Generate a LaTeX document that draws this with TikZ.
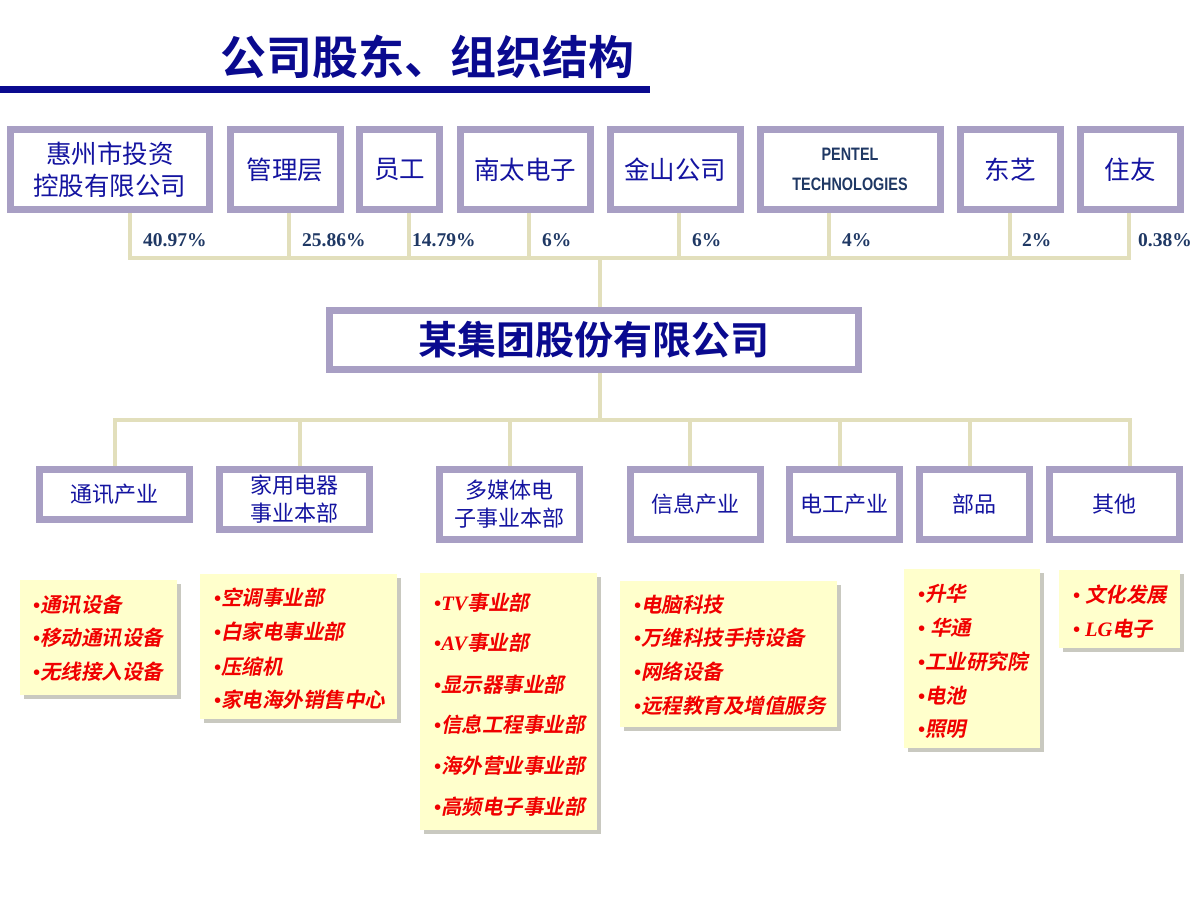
\documentclass[tikz,border=0pt]{standalone}
\usepackage{fontspec}
\setmainfont{Liberation Serif}
\newfontfamily\cjk{Noto Sans CJK SC}
\newfontfamily\cjkb{Noto Sans CJK SC}[UprightFont={* Bold}]
\newfontfamily\cjkbi{Noto Sans CJK SC}[UprightFont={* Bold},FakeSlant=0.2]
\newfontfamily\lsans{Liberation Sans}[UprightFont={* Bold},FakeStretch=0.8]
\usetikzlibrary{shadows}
\pgfdeclarelayer{background}
\pgfsetlayers{background,main}
\definecolor{framec}{HTML}{A89FC4}
\definecolor{linec}{HTML}{E2DFBC}
\definecolor{titleblue}{HTML}{0A0A8F}
\definecolor{boxblue}{HTML}{1414A0}
\definecolor{pctblue}{HTML}{1F3864}
\definecolor{ylw}{HTML}{FFFFCC}
\definecolor{shadowc}{HTML}{C9C9C0}
\definecolor{itemred}{HTML}{F00000}
\newcommand\bul{{\rmfamily\upshape\bfseries •}}
\begin{document}
\begin{tikzpicture}[x=1pt,y=-1pt,
  frame/.style={draw=framec, line width=7pt, fill=white, inner sep=0pt, align=center, text=boxblue},
  topfont/.style={font=\cjk\fontsize{25.5}{32}\selectfont},
  midfont/.style={font=\cjk\fontsize{22}{28}\selectfont},
  conn/.style={draw=linec, line width=4pt},
  pct/.style={anchor=west, inner sep=0pt, text=pctblue, font=\rmfamily\bfseries\fontsize{19.5}{19.5}\selectfont},
  ybox/.style={fill=ylw, draw=none, inner sep=0pt, drop shadow={shadow xshift=4pt, shadow yshift=-4pt, fill=shadowc, opacity=1}},
  item/.style={anchor=west, inner sep=0pt, text=itemred, font=\cjkbi\fontsize{20.5}{20.5}\selectfont},
]
\useasboundingbox (0,0) rectangle (1200,900);

% title
\node[font=\cjkb\fontsize{46}{46}\selectfont, text=titleblue, inner sep=0pt] (title) at (427,57) {公司股东、组织结构};
\fill[titleblue] (0,86) rectangle (650,93);

% shareholders
\node[frame, topfont, minimum width=199pt, minimum height=80pt] (s1) at (110,169.5) {惠州市投资\\控股有限公司};
\node[frame, topfont, minimum width=110pt, minimum height=80pt] (s2) at (285,169.5) {管理层};
\node[frame, topfont, minimum width=80pt, minimum height=80pt] (s3) at (399.5,169.5) {员工};
\node[frame, topfont, minimum width=130pt, minimum height=80pt] (s4) at (525,169.5) {南太电子};
\node[frame, topfont, minimum width=130pt, minimum height=80pt] (s5) at (675,169.5) {金山公司};
\node[frame, font=\lsans\fontsize{18}{30}\selectfont, text=pctblue, minimum width=180pt, minimum height=80pt] (s6) at (850,169.5) {PENTEL\\TECHNOLOGIES};
\node[frame, topfont, minimum width=100pt, minimum height=80pt] (s7) at (1010,169.5) {东芝};
\node[frame, topfont, minimum width=100pt, minimum height=80pt] (s8) at (1130,169.5) {住友};

% percentages
\node[pct] (p1) at (143,240) {40.97\%};
\node[pct] (p2) at (302,240) {25.86\%};
\node[pct] (p3) at (412,240) {14.79\%};
\node[pct] (p4) at (542,240) {6\%};
\node[pct] (p5) at (692,240) {6\%};
\node[pct] (p6) at (842,240) {4\%};
\node[pct] (p7) at (1022,240) {2\%};
\node[pct] (p8) at (1138,240) {0.38\%};

% main company
\node[frame, font=\cjkb\fontsize{39}{39}\selectfont, text=titleblue, minimum width=529pt, minimum height=59pt] (main) at (594,340) {某集团股份有限公司};

% divisions
\node[frame, midfont, minimum width=150pt, minimum height=50pt] (r1) at (114.5,494.5) {通讯产业};
\node[frame, midfont, minimum width=150pt, minimum height=60pt] (r2) at (294.5,499.5) {家用电器\\事业本部};
\node[frame, midfont, minimum width=140pt, minimum height=70pt] (r3) at (509.5,504.5) {多媒体电\\子事业本部};
\node[frame, midfont, minimum width=130pt, minimum height=70pt] (r4) at (695.5,504.5) {信息产业};
\node[frame, midfont, minimum width=110pt, minimum height=70pt] (r5) at (844.5,504.5) {电工产业};
\node[frame, midfont, minimum width=110pt, minimum height=70pt] (r6) at (974.5,504.5) {部品};
\node[frame, midfont, minimum width=130pt, minimum height=70pt] (r7) at (1114.5,504.5) {其他};

% bus coordinates
\coordinate (d1) at (130,258);
\coordinate (d2) at (289,258);
\coordinate (d3) at (409,258);
\coordinate (d4) at (529,258);
\coordinate (d5) at (679,258);
\coordinate (d6) at (829,258);
\coordinate (d7) at (1010,258);
\coordinate (d8) at (1129,258);
\coordinate (m1) at (600,258);
\coordinate (m2) at (600,420);
\coordinate (e1) at (115,420);
\coordinate (e2) at (300,420);
\coordinate (e3) at (510,420);
\coordinate (e4) at (690,420);
\coordinate (e5) at (840,420);
\coordinate (e6) at (970,420);
\coordinate (e7) at (1130,420);

\begin{pgfonlayer}{background}
\draw[conn] (s1.south -| d1) |- (d8) -- (s8.south -| d8);
\draw[conn] (s2.south -| d2) -- (d2);
\draw[conn] (s3.south -| d3) -- (d3);
\draw[conn] (s4.south -| d4) -- (d4);
\draw[conn] (s5.south -| d5) -- (d5);
\draw[conn] (s6.south -| d6) -- (d6);
\draw[conn] (s7.south -| d7) -- (d7);
\draw[conn] (m1) -- (main.north -| m1);
\draw[conn] (main.south -| m2) -- (m2);
\draw[conn] (r1.north -| e1) |- (e7) -- (r7.north -| e7);
\draw[conn] (e2) -- (r2.north -| e2);
\draw[conn] (e3) -- (r3.north -| e3);
\draw[conn] (e4) -- (r4.north -| e4);
\draw[conn] (e5) -- (r5.north -| e5);
\draw[conn] (e6) -- (r6.north -| e6);
\end{pgfonlayer}

% yellow boxes
\node[ybox, minimum width=157pt, minimum height=115pt] (ya) at (98.5,637.5) {};
\node[ybox, minimum width=197pt, minimum height=145pt] (yb) at (298.5,646.5) {};
\node[ybox, minimum width=177pt, minimum height=257pt] (yc) at (508.5,701.5) {};
\node[ybox, minimum width=217pt, minimum height=146pt] (yd) at (728.5,654) {};
\node[ybox, minimum width=136pt, minimum height=179pt] (ye) at (972,658.5) {};
\node[ybox, minimum width=121pt, minimum height=78pt] (yf) at (1119.5,609) {};

% items A
\node[item] (a1) at (33,605) {\bul 通讯设备};
\node[item] (a2) at (33,638) {\bul 移动通讯设备};
\node[item] (a3) at (33,672) {\bul 无线接入设备};
% items B
\node[item] (b1) at (214,598) {\bul 空调事业部};
\node[item] (b2) at (214,632) {\bul 白家电事业部};
\node[item] (b3) at (214,667) {\bul 压缩机};
\node[item] (b4) at (214,700) {\bul 家电海外销售中心};
% items C
\node[item] (c1) at (434,603) {\bul{\rmfamily\bfseries\itshape TV}事业部};
\node[item] (c2) at (434,643) {\bul{\rmfamily\bfseries\itshape AV}事业部};
\node[item] (c3) at (434,685) {\bul 显示器事业部};
\node[item] (c4) at (434,725) {\bul 信息工程事业部};
\node[item] (c5) at (434,766) {\bul 海外营业事业部};
\node[item] (c6) at (434,807) {\bul 高频电子事业部};
% items D
\node[item] (dd1) at (634,605) {\bul 电脑科技};
\node[item] (dd2) at (634,638) {\bul 万维科技手持设备};
\node[item] (dd3) at (634,672) {\bul 网络设备};
\node[item] (dd4) at (634,706) {\bul 远程教育及增值服务};
% items E
\node[item] (f1) at (918,594) {\bul 升华};
\node[item] (f2) at (918,628) {\bul\ 华通};
\node[item] (f3) at (918,662) {\bul 工业研究院};
\node[item] (f4) at (918,696) {\bul 电池};
\node[item] (f5) at (918,729) {\bul 照明};
% items F
\node[item] (g1) at (1073,595) {\bul\ 文化发展};
\node[item] (g2) at (1073,629) {\bul\ {\rmfamily\bfseries\itshape LG}电子};
\end{tikzpicture}
\end{document}
